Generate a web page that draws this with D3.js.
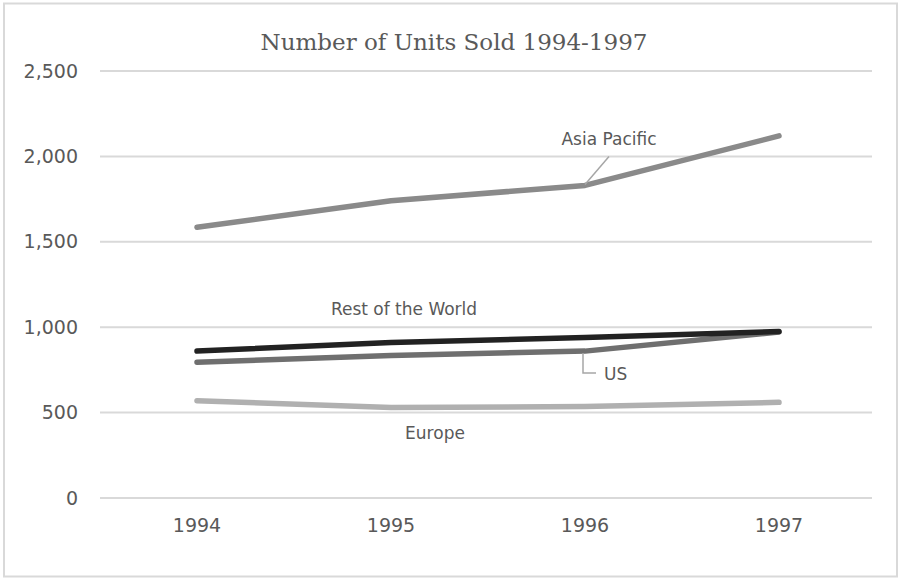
<!DOCTYPE html>
<html>
<head>
<meta charset="utf-8">
<script src="https://cdn.jsdelivr.net/npm/d3@7"></script>
<style>
  body { margin: 0; background: #fff; }
  text { fill: #595959; }
</style>
</head>
<body>
<svg id="chart" width="902" height="580"></svg>
<script>
// Data
const years = ["1994", "1995", "1996", "1997"];
const asiaPacific = [1585, 1740, 1830, 2120];
const restOfWorld = [860, 910, 940, 975];
const us = [795, 835, 860, 972];
const europe = [570, 530, 535, 560];
const yTicks = [0, 500, 1000, 1500, 2000, 2500];

const series = [
  { name: "Europe", values: europe, color: "#b0b0b0" },
  { name: "US", values: us, color: "#6f6f6f" },
  { name: "Asia Pacific", values: asiaPacific, color: "#8a8a8a" },
  { name: "Rest of the World", values: restOfWorld, color: "#222222" }
];

const svg = d3.select("#chart");
const width = +svg.attr("width");
const height = +svg.attr("height");

// Outer frame
svg.append("rect")
  .attr("x", 4).attr("y", 3.5)
  .attr("width", width - 9).attr("height", height - 7)
  .attr("fill", "#fff")
  .attr("stroke", "#d9d9d9")
  .attr("stroke-width", 2);

const x = d3.scaleBand().domain(years).range([100, 876]);
const y = d3.scaleLinear().domain([0, 2500]).range([498, 71]);

// Title
svg.append("text")
  .attr("x", 454).attr("y", 50)
  .attr("text-anchor", "middle")
  .style("font-family", "'DejaVu Serif', serif")
  .style("font-size", "23px")
  .text("Number of Units Sold 1994-1997");

// Gridlines
svg.append("g")
  .selectAll("line")
  .data(yTicks)
  .enter()
  .append("line")
  .attr("x1", 100).attr("x2", 872)
  .attr("y1", d => y(d)).attr("y2", d => y(d))
  .attr("stroke", "#d9d9d9")
  .attr("stroke-width", 2);

// Y axis labels
const yAxis = svg.append("g")
  .attr("transform", "translate(100,0)")
  .call(d3.axisLeft(y).tickValues(yTicks).tickFormat(d3.format(",")).tickSize(0).tickPadding(22));
yAxis.select(".domain").remove();
yAxis.selectAll("text")
  .style("font-family", "'DejaVu Sans', sans-serif")
  .style("font-size", "19px")
  .attr("fill", "#595959");

// X axis labels
const xAxis = svg.append("g")
  .attr("transform", "translate(0,498)")
  .call(d3.axisBottom(x).tickSize(0).tickPadding(21));
xAxis.select(".domain").remove();
xAxis.selectAll("text")
  .style("font-family", "'DejaVu Sans', sans-serif")
  .style("font-size", "19px")
  .attr("fill", "#595959");

// Lines
const line = d3.line()
  .x((d, i) => x(years[i]) + x.bandwidth() / 2)
  .y(d => y(d));

svg.append("g")
  .selectAll("path")
  .data(series)
  .enter()
  .append("path")
  .attr("d", d => line(d.values))
  .attr("fill", "none")
  .attr("stroke", d => d.color)
  .attr("stroke-width", 5.5)
  .attr("stroke-linecap", "round")
  .attr("stroke-linejoin", "round");

// Data labels
const cx = i => x(years[i]) + x.bandwidth() / 2;
const labelFont = g => g
  .style("font-family", "'DejaVu Sans', sans-serif")
  .style("font-size", "17px");

// Asia Pacific label with leader
svg.append("line")
  .attr("x1", cx(2)).attr("y1", y(asiaPacific[2]) - 1)
  .attr("x2", cx(2) + 24).attr("y2", y(asiaPacific[2]) - 29)
  .attr("stroke", "#a6a6a6").attr("stroke-width", 1.5);
svg.append("text")
  .attr("x", cx(2) + 24).attr("y", y(asiaPacific[2]) - 40)
  .attr("text-anchor", "middle")
  .call(labelFont)
  .text("Asia Pacific");

// Rest of the World label
svg.append("text")
  .attr("x", cx(1) + 13).attr("y", y(restOfWorld[1]) - 28)
  .attr("text-anchor", "middle")
  .call(labelFont)
  .text("Rest of the World");

// US label with bracket leader
svg.append("path")
  .attr("d", `M${cx(2) - 2},${y(us[2]) + 2} V${y(us[2]) + 22} H${cx(2) + 11}`)
  .attr("fill", "none")
  .attr("stroke", "#a6a6a6").attr("stroke-width", 1.5);
svg.append("text")
  .attr("x", cx(2) + 19).attr("y", y(us[2]) + 29)
  .call(labelFont)
  .text("US");

// Europe label
svg.append("text")
  .attr("x", cx(1) + 44).attr("y", y(europe[1]) + 32)
  .attr("text-anchor", "middle")
  .call(labelFont)
  .text("Europe");
</script>
</body>
</html>
